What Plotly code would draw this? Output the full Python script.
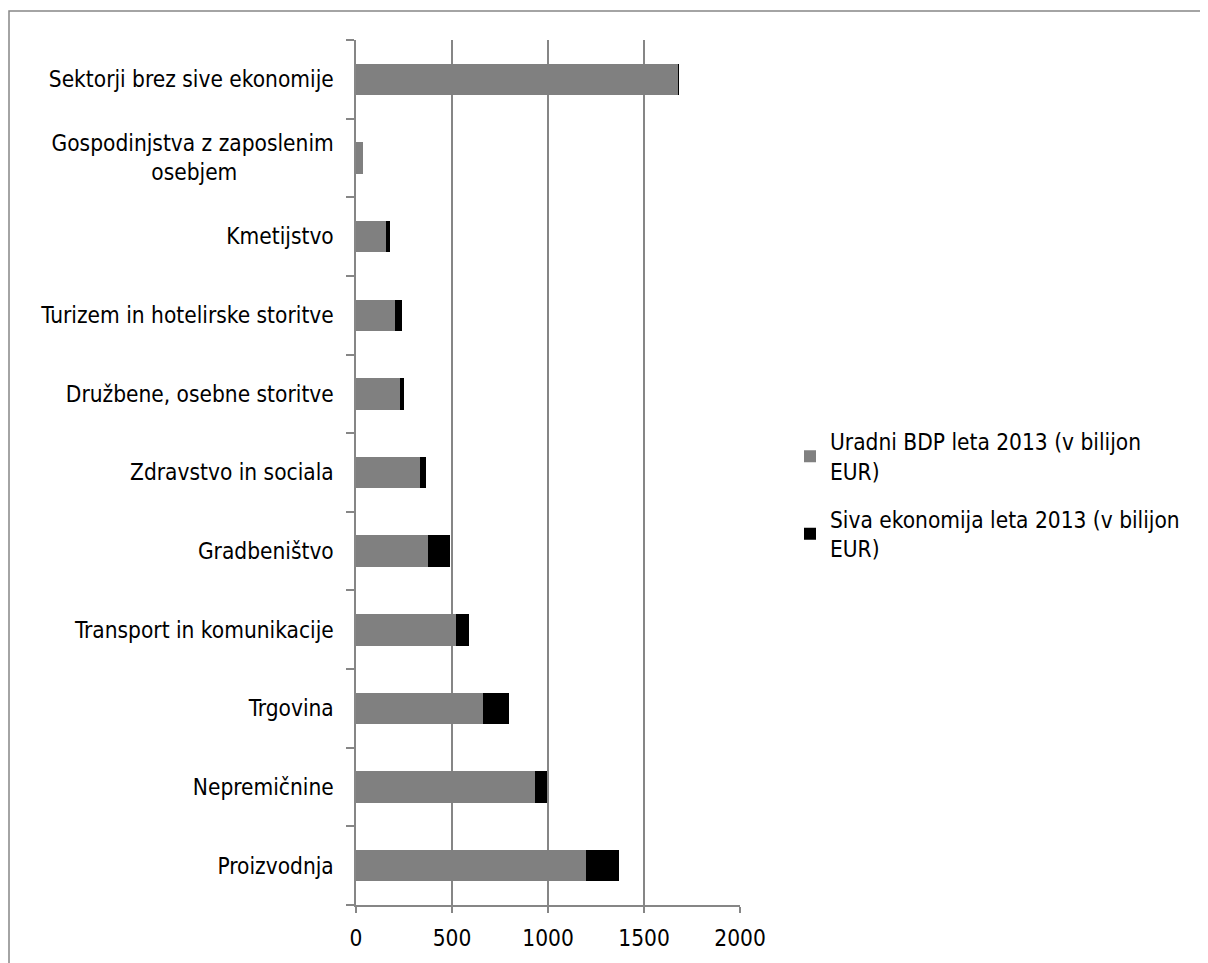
import plotly.graph_objects as go

categories = [
    "Proizvodnja",
    "Nepremičnine",
    "Trgovina",
    "Transport in komunikacije",
    "Gradbeništvo",
    "Zdravstvo in sociala",
    "Družbene, osebne storitve",
    "Turizem in hotelirske storitve",
    "Kmetijstvo",
    "Gospodinjstva z zaposlenim<br>osebjem" + "\u00a0" * 15,
    "Sektorji brez sive ekonomije",
]
uradni_bdp = [1197, 933, 664, 520, 376, 331, 230, 203, 156, 38, 1679]
siva_ekonomija = [174, 64, 134, 71, 115, 31, 20, 34, 23, 0, 3]
series_names = [
    "Uradni BDP leta 2013 (v bilijon<br>EUR)",
    "Siva ekonomija leta 2013 (v bilijon<br>EUR)",
]
x_ticks = [0, 500, 1000, 1500, 2000]

FONT = "DejaVu Sans Condensed, Tahoma, DejaVu Sans, sans-serif"
FS = 22.5
OFF = 8  # page body margin
W, H = 1208 - OFF, 963 - OFF
L, T = 356 - OFF, 40 - OFF
R, B = W - (740 - OFF), H - (907 - OFF)
pw, ph = W - L - R, H - T - B

fig = go.Figure()
fig.add_trace(go.Bar(y=categories, x=uradni_bdp, orientation="h", name=series_names[0],
                     legendgroup="a", marker=dict(color="#808080", line=dict(width=0))))
fig.add_trace(go.Bar(y=categories, x=siva_ekonomija, orientation="h", name=series_names[1],
                     legendgroup="b", marker=dict(color="#000000", line=dict(width=0))))

# outer frame
fig.add_shape(type="rect", xref="paper", yref="paper",
              x0=(1 - L) / pw, x1=(1400 - L) / pw,
              y0=1 - (1200 - T) / ph, y1=1 + (T - 3) / ph,
              line=dict(color="#868686", width=1.5), fillcolor="rgba(0,0,0,0)", layer="below")

fig.update_layout(
    width=W, height=H,
    margin=dict(l=L, r=R, t=T, b=B, pad=0),
    barmode="stack", bargap=0.6,
    paper_bgcolor="white", plot_bgcolor="white",
    font=dict(family=FONT, size=FS, color="#000000"),
    legend=dict(x=(782 - L) / pw, xanchor="left", y=1 - (488 - T) / ph, yanchor="middle",
                traceorder="grouped", tracegroupgap=16,
                font=dict(family=FONT, size=FS), bgcolor="rgba(0,0,0,0)"),
    xaxis=dict(range=[0, 2000], tickvals=x_ticks, ticktext=[str(v) for v in x_ticks],
               showgrid=True, gridcolor="#868686", gridwidth=1.5,
               showline=True, linecolor="#868686", linewidth=1.5,
               ticks="outside", ticklen=6, tickcolor="#868686", tickwidth=1.5,
               zeroline=False, ticklabelstandoff=6),
    yaxis=dict(type="category", tickson="boundaries",
               showline=True, linecolor="#868686", linewidth=1.5,
               ticks="outside", ticklen=8, tickcolor="#868686", tickwidth=1.5,
               showgrid=False, zeroline=False, ticklabelstandoff=16),
)

fig.write_html("out.html")
